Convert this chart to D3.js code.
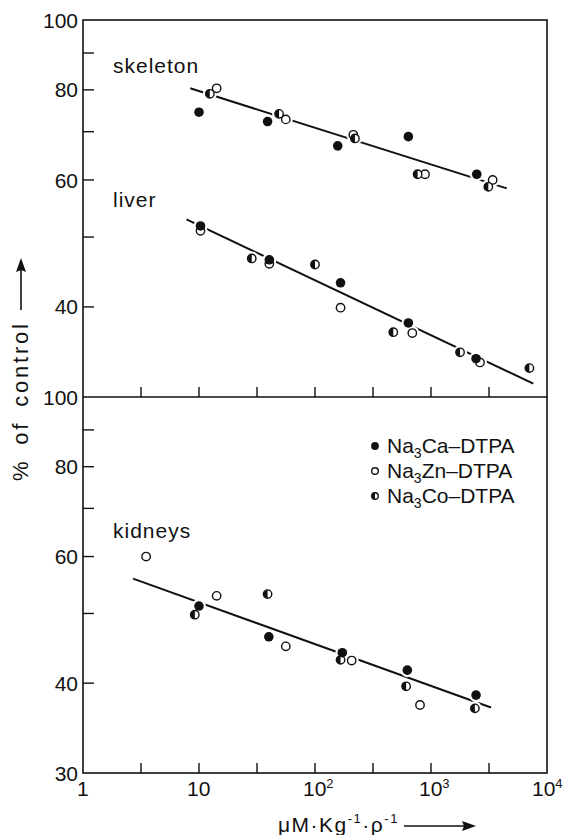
<!DOCTYPE html>
<html lang="en">
<head>
    <meta charset="UTF-8">
    <title>DTPA dose response</title>
    <script src="https://cdn.jsdelivr.net/npm/d3@7"></script>
    <style>
        body { margin: 0; background: #fff; }
        text { font-family: "Liberation Sans", Arial, sans-serif; fill: #111; }
    </style>
</head>
<body>
<svg width="565" height="835"></svg>

<script>
    // dose (µM/kg), value (% of control)
    var skeletonCa = [[10, 74.5], [39, 72.3], [157, 66.9], [638, 68.9], [2480, 61.1]];
    var skeletonZn = [[14.2, 80.4], [56, 72.8], [214, 69.3], [888, 61.1], [3400, 60.0]];
    var skeletonCo = [[12.4, 79.0], [49, 74.1], [221, 68.5], [767, 61.1], [3120, 58.7]];
    var skeletonFit = [[8.4, 80.4], [4500, 58.4]];

    var liverZn = [[10.3, 51.0], [40.4, 45.9], [166, 39.9], [690, 36.8], [2645, 33.5]];
    var liverCa = [[10.3, 51.8], [40.4, 46.5], [166, 43.2], [638, 38.0], [2445, 33.9]];
    var liverCo = [[28.5, 46.7], [100, 45.8], [473, 36.9], [1780, 34.6], [7050, 32.9]];
    var liverFit = [[7.8, 52.9], [7620, 31.3]];

    var kidneyCa = [[10, 51.2], [40, 46.4], [172, 44.1], [625, 41.7], [2445, 38.5]];
    var kidneyZn = [[3.5, 60.0], [14.2, 52.9], [56, 45.0], [207, 43.0], [804, 37.3]];
    var kidneyCo = [[9.2, 49.8], [39, 53.2], [166, 43.1], [610, 39.6], [2390, 36.9]];
    var kidneyFit = [[2.7, 55.9], [3290, 37.0]];

    var xTickLabels = [[1, '1', ''], [10, '10', ''], [100, '10', '2'], [1000, '10', '3'], [10000, '10', '4']];
    var yLabelsTop = [100, 80, 60, 40];
    var yLabelsBot = [100, 80, 60, 40, 30];
    var yMinorValues = [90, 80, 70, 60, 50, 40];
    var xMinorValues = [Math.sqrt(10), 10, Math.sqrt(1000), 100, Math.sqrt(1e5), 1000, Math.sqrt(1e7)];
    var legendNames = ['Ca', 'Zn', 'Co'];

    var svg = d3.select('svg');
    var box = {left: 83, right: 547, top: 20, mid: 397, bottom: 773};

    var x = d3.scaleLog().domain([1, 1e4]).range([box.left, box.right]);
    var yTop = d3.scaleLog().domain([30, 100]).range([box.mid, box.top]);
    var yBot = d3.scaleLog().domain([30, 100]).range([box.bottom, box.mid]);

    // frame
    svg.append('rect').attr('x', box.left).attr('y', box.top)
        .attr('width', box.right - box.left).attr('height', box.bottom - box.top)
        .attr('fill', 'none').attr('stroke', '#111').attr('stroke-width', 1.6);
    svg.append('line').attr('x1', box.left).attr('x2', box.right)
        .attr('y1', box.mid).attr('y2', box.mid)
        .attr('stroke', '#111').attr('stroke-width', 1.6);

    // ticks for each panel
    [yTop, yBot].forEach(function (y) {
        var g = svg.append('g').attr('stroke', '#111').attr('stroke-width', 1.4);
        g.selectAll('.yt').data(yMinorValues).enter().append('line')
            .attr('x1', box.left).attr('x2', box.left + 11)
            .attr('y1', function (d) { return y(d); })
            .attr('y2', function (d) { return y(d); });
        g.selectAll('.xt').data(xMinorValues).enter().append('line')
            .attr('x1', function (d) { return x(d); })
            .attr('x2', function (d) { return x(d); })
            .attr('y1', y.range()[0]).attr('y2', y.range()[0] - 10);
    });

    // y tick labels
    svg.selectAll('.ylt').data(yLabelsTop).enter().append('text')
        .attr('x', box.left - 5).attr('y', function (d) { return yTop(d); })
        .attr('dy', '0.36em').attr('text-anchor', 'end').attr('font-size', 21)
        .text(function (d) { return d; });
    svg.selectAll('.ylb').data(yLabelsBot).enter().append('text')
        .attr('x', box.left - 5).attr('y', function (d) { return yBot(d); })
        .attr('dy', '0.36em').attr('text-anchor', 'end').attr('font-size', 21)
        .text(function (d) { return d; });

    // x tick labels: "10" centred on the tick, exponent after it
    var xl = svg.selectAll('.xl').data(xTickLabels).enter().append('text')
        .attr('x', function (d) { return x(d[0]) - (d[1].length === 1 ? 6 : 12) - (d[0] === 10000 ? 3 : 0); })
        .attr('y', 796).attr('font-size', 21);
    xl.append('tspan').text(function (d) { return d[1]; });
    xl.append('tspan').attr('dy', -8).attr('font-size', 13)
        .text(function (d) { return d[2]; });

    // axis titles
    var xt = svg.append('text').attr('x', 278).attr('y', 832)
        .attr('font-size', 21).attr('letter-spacing', 1.5);
    xt.append('tspan').text('\u03bcM\u00b7Kg');
    xt.append('tspan').attr('dy', -9).attr('font-size', 13).text('-1');
    xt.append('tspan').attr('dy', 9).text('\u00b7\u03c1');
    xt.append('tspan').attr('dy', -9).attr('font-size', 13).text('-1');
    svg.append('line').attr('x1', 404).attr('x2', 466).attr('y1', 826).attr('y2', 826)
        .attr('stroke', '#111').attr('stroke-width', 1.6);
    svg.append('path').attr('d', 'M476,826 L462,821 L464,826 L462,831 Z').attr('fill', '#111');

    svg.append('text').attr('transform', 'translate(28,481) rotate(-90)')
        .attr('font-size', 22).attr('letter-spacing', 2.8).attr('word-spacing', 5)
        .text('% of control');
    svg.append('line').attr('x1', 21).attr('x2', 21).attr('y1', 310).attr('y2', 270)
        .attr('stroke', '#111').attr('stroke-width', 1.6);
    svg.append('path').attr('d', 'M21,258 L16,272 L21,270 L26,272 Z').attr('fill', '#111');

    // panel labels
    svg.append('text').attr('x', 113).attr('y', 73).attr('font-size', 21).attr('letter-spacing', 1).text('skeleton');
    svg.append('text').attr('x', 113).attr('y', 207).attr('font-size', 21).attr('letter-spacing', 1).text('liver');
    svg.append('text').attr('x', 113).attr('y', 538).attr('font-size', 21).attr('letter-spacing', 1).text('kidneys');

    // markers
    function marker(g, cx, cy, r, kind) {
        if (kind === 'Ca') {
            g.append('circle').attr('cx', cx).attr('cy', cy).attr('r', r + 0.6).attr('fill', '#111');
        } else if (kind === 'Zn') {
            g.append('circle').attr('cx', cx).attr('cy', cy).attr('r', r)
                .attr('fill', '#fff').attr('stroke', '#111').attr('stroke-width', 1.4);
        } else {
            g.append('circle').attr('cx', cx).attr('cy', cy).attr('r', r)
                .attr('fill', '#fff').attr('stroke', '#111').attr('stroke-width', 1.4);
            g.append('path')
                .attr('d', 'M' + cx + ',' + (cy - r) + ' A' + r + ',' + r + ' 0 0 0 ' + cx + ',' + (cy + r) + ' Z')
                .attr('fill', '#111');
        }
    }

    var line = d3.line();
    var panels = [
        {y: yTop, fit: skeletonFit, series: [['Zn', skeletonZn], ['Co', skeletonCo], ['Ca', skeletonCa]]},
        {y: yTop, fit: liverFit, series: [['Zn', liverZn], ['Co', liverCo], ['Ca', liverCa]]},
        {y: yBot, fit: kidneyFit, series: [['Zn', kidneyZn], ['Co', kidneyCo], ['Ca', kidneyCa]]}
    ];

    panels.forEach(function (p) {
        svg.append('path')
            .attr('d', line(p.fit.map(function (d) { return [x(d[0]), p.y(d[1])]; })))
            .attr('stroke', '#111').attr('stroke-width', 2).attr('fill', 'none');
        // white halo so the fit line breaks around points
        p.series.forEach(function (s) {
            s[1].forEach(function (d) {
                svg.append('circle').attr('cx', x(d[0])).attr('cy', p.y(d[1]))
                    .attr('r', 7).attr('fill', '#fff');
            });
        });
        var g = svg.append('g');
        p.series.forEach(function (s) {
            s[1].forEach(function (d) {
                marker(g, x(d[0]), p.y(d[1]), 4.2, s[0]);
            });
        });
    });

    // legend
    var lg = svg.append('g');
    legendNames.forEach(function (n, i) {
        var cy = 446 + i * 25;
        marker(lg, 375, cy, 3.3, n);
        var t = lg.append('text').attr('x', 387).attr('y', cy + 7).attr('font-size', 21);
        t.append('tspan').text('Na');
        t.append('tspan').attr('dy', 5).attr('font-size', 14).text('3');
        t.append('tspan').attr('dy', -5).text(n + '\u2013DTPA');
    });
</script>
</body>
</html>
